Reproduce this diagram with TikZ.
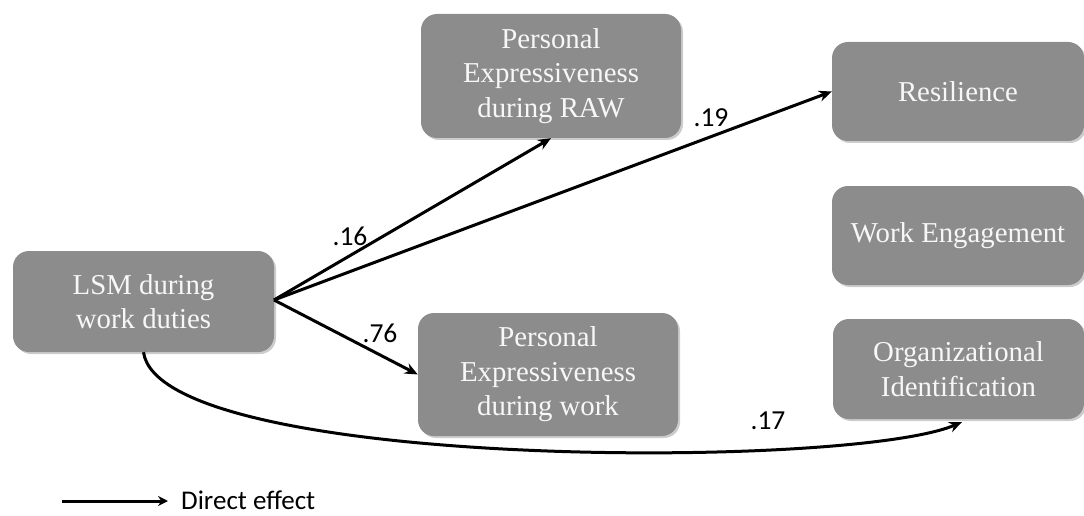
\documentclass[tikz,border=0pt]{standalone}
\usepackage{fontspec}
\setmainfont{Liberation Serif}
\newfontfamily\lblfont{Carlito}
\usetikzlibrary{arrows.meta,shadows}
\definecolor{boxgray}{HTML}{8C8C8C}
\definecolor{boxtext}{HTML}{F7F7F7}
\begin{document}
\begin{tikzpicture}[x=1pt,y=-1pt,
  varbox/.style={rectangle, rounded corners=16pt, fill=boxgray, text=boxtext,
    align=center, inner sep=0pt, font=\fontsize{28.8}{34.5}\selectfont,
    drop shadow={shadow xshift=2pt, shadow yshift=-2pt, opacity=0.2, fill=black}},
  path/.style={line width=3pt, -{Stealth[length=13pt,width=11pt]}},
  coef/.style={font=\lblfont\fontsize{27.5}{30}\selectfont, inner sep=0pt}]
\useasboundingbox (0,0) rectangle (1084,516);
\node[varbox, minimum width=261pt, minimum height=101pt] (lsm) at (143.5,301.5) {LSM during\\work duties};
\node[varbox, minimum width=260pt, minimum height=124pt] (peraw) at (551,76) {Personal\\Expressiveness\\during RAW};
\node[varbox, minimum width=260pt, minimum height=123pt] (pework) at (548,374.5) {Personal\\Expressiveness\\during work};
\node[varbox, minimum width=252pt, minimum height=99pt] (res) at (958,91.5) {Resilience};
\node[varbox, minimum width=252pt, minimum height=99pt] (we) at (958,235.5) {Work Engagement};
\node[varbox, minimum width=251pt, minimum height=100pt] (oi) at (958.5,369) {Organizational\\Identification};

\coordinate (src) at (274,300);
\coordinate (oiend) at (962,422);
\draw[path] (src) -- (peraw.south);
\draw[path] (src) -- (res.west);
\draw[path] (src) -- (pework.west);
\draw[path] (lsm.south) .. controls (160,470) and (850,470) .. (oiend);

\node[coef] (c16) at (350,236) {.16};
\node[coef] (c19) at (711,118) {.19};
\node[coef] (c76) at (380,333) {.76};
\node[coef] (c17) at (768,421) {.17};

\coordinate (lega) at (62,501);
\coordinate (legb) at (168,501);
\draw[path, -{Stealth[length=10pt,width=10pt]}] (lega) -- (legb);
\node[coef, anchor=base west, text depth=0pt, font=\lblfont\fontsize{27}{28}\selectfont] (legtxt) at (181,509) {Direct effect};
\end{tikzpicture}
\end{document}
